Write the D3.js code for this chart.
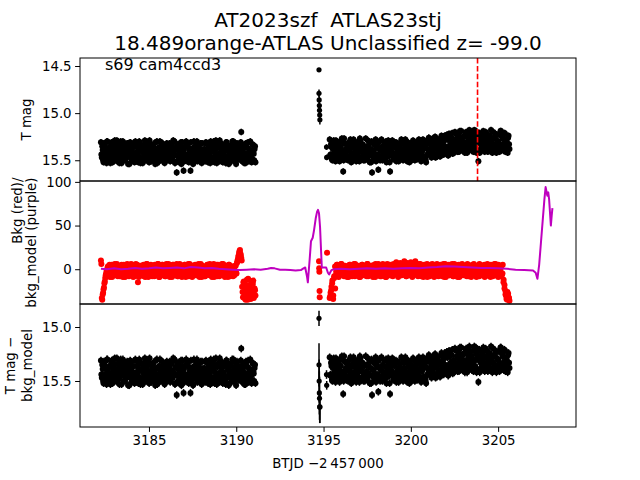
<!DOCTYPE html>
<html><head><meta charset="utf-8">
<script src="https://cdn.jsdelivr.net/npm/d3@7"></script>
<style>body{margin:0;background:#fff}svg text{font-family:"DejaVu Sans",sans-serif}</style>
</head><body><svg id="c" width="640" height="480"></svg>
<script>
// ---------------- DATA ----------------
const titleLines = ["AT2023szf  ATLAS23stj", "18.489orange-ATLAS Unclassified z= -99.0"];
const sectorLabel = "s69 cam4ccd3";
const xLabel = "BTJD \u22122\u2009457\u2009000";
const xTicks = [3185, 3190, 3195, 3200, 3205];
const yTicksMag = [14.5, 15.0, 15.5];
const yTicksBkg = [0, 50, 100];
const yTicksDiff = [15.0, 15.5];
const markerTime = 3203.82;

// orbit (segment) time spans, regular cadence inside each
const seg1Span = [3182.25, 3191.10];
const seg2Span = [3195.35, 3205.65];

// T mag, orbit 1 (even cadences)
const mag1 = [
15.31,15.47,15.39,15.52,15.35,15.44,15.50,15.30,15.41,15.46,15.36,15.53,15.33,15.43,15.49,15.38,15.29,15.45,15.40,15.51,
15.34,15.48,15.42,15.30,15.53,15.37,15.45,15.32,15.50,15.40,15.47,15.35,15.43,15.54,15.31,15.39,15.49,15.36,15.44,15.52,
15.30,15.42,15.51,15.37,15.46,15.33,15.53,15.40,15.48,15.35,15.44,15.29,15.50,15.38,15.45,15.32,15.52,15.41,15.47,15.36,
15.48,15.33,15.43,15.54,15.39,15.30,15.46,15.51,15.36,15.42,15.31,15.49,15.37,15.45,15.53,15.34,15.41,15.50,15.38,15.44,
15.32,15.50,15.40,15.46,15.29,15.43,15.53,15.37,15.63,15.34,15.45,15.52,15.39,15.31,15.47,15.42,15.61,15.51,15.44,15.30,
15.45,15.36,15.52,15.41,15.61,15.49,15.38,15.54,15.30,15.46,15.40,15.34,15.51,15.43,15.37,15.48,15.32,15.53,15.39,15.47,
15.38,15.51,15.31,15.44,15.49,15.35,15.42,15.53,15.33,15.47,15.40,15.30,15.52,15.37,15.45,15.50,15.34,15.43,15.29,15.48,
15.41,15.33,15.50,15.45,15.36,15.53,15.31,15.47,15.39,15.44,15.52,15.35,15.42,15.49,15.30,15.46,15.38,15.54,15.32,15.43,
15.49,15.37,15.44,15.20,15.51,15.40,15.34,15.47,15.53,15.36,15.43,15.31,15.48,15.39,15.45,15.52,15.33,15.41,15.50,15.35];
// T mag, orbit 1 (odd cadences)
const mag1b = [
15.44,15.35,15.50,15.32,15.47,15.39,15.53,15.30,15.42,15.49,15.37,15.45,15.31,15.52,15.40,15.34,15.48,15.43,15.29,15.46,
15.38,15.53,15.33,15.45,15.41,15.30,15.50,15.36,15.47,15.43,15.32,15.54,15.39,15.46,15.34,15.51,15.37,15.42,15.48,15.31,
15.47,15.36,15.44,15.52,15.30,15.40,15.49,15.34,15.53,15.38,15.45,15.31,15.42,15.50,15.35,15.46,15.29,15.43,15.51,15.39,
15.35,15.49,15.41,15.31,15.46,15.53,15.37,15.44,15.30,15.50,15.40,15.47,15.33,15.52,15.38,15.45,15.32,15.48,15.42,15.36,
15.51,15.40,15.34,15.47,15.43,15.30,15.52,15.38,15.45,15.33,15.49,15.41,15.36,15.54,15.31,15.44,15.39,15.50,15.35,15.46,
15.33,15.46,15.50,15.38,15.31,15.44,15.40,15.53,15.36,15.48,15.42,15.30,15.47,15.35,15.51,15.39,15.45,15.32,15.49,15.41,
15.43,15.32,15.48,15.40,15.52,15.36,15.45,15.30,15.50,15.39,15.34,15.47,15.42,15.29,15.53,15.37,15.44,15.51,15.33,15.46,
15.37,15.52,15.42,15.34,15.49,15.31,15.46,15.40,15.54,15.35,15.43,15.48,15.30,15.45,15.38,15.51,15.33,15.41,15.47,15.36,
15.46,15.39,15.31,15.50,15.42,15.35,15.53,15.44,15.32,15.48,15.37,15.51,15.40,15.30,15.45,15.49,15.34,15.43,15.38,15.52];
// T mag, orbit 2 (even cadences)
const mag2 = [
15.28,15.44,15.36,15.50,15.31,15.42,15.47,15.29,15.39,15.45,15.34,15.51,15.30,15.41,15.48,15.62,15.27,15.43,15.38,15.49,
15.32,15.46,15.40,15.28,15.52,15.35,15.44,15.30,15.48,15.38,15.45,15.33,15.42,15.51,15.29,15.37,15.47,15.34,15.43,15.50,
15.27,15.41,15.49,15.36,15.45,15.31,15.52,15.63,15.46,15.33,15.43,15.28,15.48,15.36,15.60,15.30,15.50,15.40,15.46,15.35,
15.47,15.31,15.42,15.52,15.37,15.29,15.45,15.62,15.34,15.41,15.30,15.48,15.36,15.44,15.51,15.32,15.40,15.48,15.37,15.43,
15.29,15.47,15.38,15.45,15.28,15.42,15.51,15.35,15.46,15.32,15.44,15.50,15.37,15.30,15.45,15.40,15.33,15.49,15.42,15.28,
15.46,15.35,15.50,15.39,15.31,15.47,15.36,15.52,15.29,15.44,
15.26,15.41,15.33,15.47,15.30,15.39,15.44,15.25,15.36,15.46,15.28,15.40,15.34,15.45,15.24,15.38,15.43,15.29,15.35,15.42,
15.23,15.37,15.44,15.27,15.33,15.40,15.21,15.36,15.42,
15.20,15.35,15.27,15.41,15.23,15.32,15.38,15.19,15.30,15.36,15.25,15.42,15.21,15.33,15.39,15.26,15.18,15.34,15.29,15.40,
15.22,15.37,15.31,15.19,15.42,15.27,15.51,15.21,15.39,15.30,15.36,15.24,15.33,15.41,15.20,15.28,15.38,15.25,15.34,15.40,
15.18,15.32,15.39,15.26,15.36,15.22,15.42,15.30,15.37,15.23,15.34,15.19,15.39,15.27,15.35,15.21,15.41,15.31,15.37,15.26,
15.33];
// T mag, orbit 2 (odd cadences)
const mag2b = [
15.45,15.33,15.49,15.38,15.29,15.43,15.51,15.35,15.46,15.31,15.40,15.48,15.36,15.27,15.44,15.50,15.32,15.41,15.47,15.34,
15.50,15.39,15.30,15.45,15.37,15.49,15.28,15.42,15.35,15.51,15.31,15.46,15.38,15.27,15.48,15.41,15.33,15.50,15.36,15.44,
15.47,15.35,15.29,15.43,15.52,15.38,15.30,15.45,15.40,15.49,15.34,15.51,15.37,15.44,15.31,15.47,15.39,15.28,15.50,15.42,
15.36,15.48,15.30,15.41,15.46,15.33,15.52,15.38,15.44,15.29,15.49,15.35,15.43,15.31,15.47,15.40,15.51,15.34,15.45,15.28,
15.42,15.50,15.33,15.39,15.48,15.30,15.44,15.37,15.52,15.41,15.35,15.47,15.29,15.43,15.50,15.36,15.45,15.31,15.48,15.39,
15.33,15.51,15.41,15.28,15.46,15.37,15.49,15.32,15.44,15.40,
15.38,15.30,15.45,15.35,15.27,15.43,15.32,15.47,15.36,15.29,15.42,15.33,15.46,15.26,15.39,15.31,15.44,15.24,15.37,15.41,
15.28,15.45,15.22,15.34,15.40,15.26,15.43,15.31,15.38,
15.33,15.22,15.39,15.28,15.41,15.19,15.35,15.26,15.40,15.31,15.24,15.37,15.20,15.42,15.29,15.34,15.23,15.38,15.27,15.32,
15.41,15.18,15.36,15.25,15.39,15.30,15.21,15.42,15.33,15.26,15.37,15.19,15.40,15.28,15.35,15.22,15.41,15.31,15.24,15.38,
15.29,15.42,15.20,15.34,15.27,15.39,15.23,15.36,15.30,15.41,15.19,15.37,15.25,15.33,15.40,15.22,15.35,15.28,15.42,15.24,
15.38];
const magErr = 0.035;

// background flux (red)
const bkg1 = [
10,-33,-29,-23,-16,-10,-5,
-8,3,-3,5,-6,0,-9,2,-4,6,-1,-7,4,-5,1,-8,-2,5,-3,-6,3,-9,0,4,-4,-7,2,-1,6,-5,-2,4,-8,1,-6,5,-15,-9,2,-1,
4,-6,0,-8,3,-4,6,-2,-9,1,-5,5,-7,2,-3,-8,4,0,-6,6,-1,-9,3,-4,5,-7,1,-2,-8,6,-5,2,-3,-9,4,-1,-6,5,0,-7,
-3,6,-8,1,-5,4,-1,-9,3,-6,5,-2,-7,2,0,-8,6,-4,-1,-9,4,-5,3,-3,-7,5,1,-6,-2,6,-9,0,-4,3,-8,2,-5,5,-1,-7,
4,-3,-9,1,6,-6,-2,3,-8,5,-4,0,-7,2,-5,6,-1,-9,4,-3,1,-6,5,-8,-2,3,-5,0,-7,4,-4,
7,11,16,21,18,13,
-20,-32,-14,-28,-35,-18,-25,-11,-30,-22,-34,-16,-27,-13,-31,-24];
const bkg1b = [
6,-35,-27,-21,-14,-7,-2,
1,-6,4,-9,-2,5,-4,0,-7,3,-5,6,-8,2,-1,-6,4,-3,-9,5,
-2,1,-7,6,-4,-8,3,0,-5,5,-9,2,-3,6,-6,1,-1,-8,4,-4,
2,-7,5,-2,-9,0,6,-5,3,-6,-1,4,-8,1,-3,5,-7,2,-4,6,
-9,-1,3,-6,5,-3,0,-8,4,-5,1,6,-7,-2,3,-9,5,-4,2,-6,
0,4,-8,-1,6,-5,3,-3,-7,2,5,-9,1,-4,6,-2,-6,3,-8,4,
-1,-5,5,-7,2,-3,6,-9,0,-4,4,-6,1,-8,3,-2,5,-5,-1,6,
-7,2,-4,4,-9,0,-3,5,-6,1,-8,3,-2,6,-5,-1,4,-7,2,-4,
-9,5,-3,0,-6,3,-8,1,-2,4,-5,
9,14,19,22,16,10,
-26,-15,-33,-21,-29,-12,-35,-19,-24,-31,-14,-28,-17,-33,-22,-30];
const bkg2 = [
-33,-27,-20,-13,-30,-8,
3,-7,5,-2,-9,1,-5,6,-4,0,-8,4,-3,-6,2,-9,5,-1,-7,3,-4,6,-8,0,-5,4,-2,-9,1,-6,5,-3,-7,2,-1,-8,6,-4,0,-6,
4,-2,-9,3,-5,6,-7,1,-3,5,-8,0,-4,6,-6,2,-9,4,-1,-5,5,-7,3,-2,-8,6,-4,1,-6,4,-9,2,-3,5,-7,0,-5,6,-2,-8,
7,-4,2,-7,8,-1,-6,5,-3,9,-5,3,-8,6,0,-6,4,-2,-9,5,1,-7,6,-4,2,-8,5,-1,-5,4,-9,3,-3,6,-6,0,-7,5,-2,-8,
3,-5,6,-9,1,-3,5,-7,2,-4,6,-8,0,-5,4,-2,-9,5,-6,1,-3,6,-7,3,-4,0,-8,5,-1,-6,4,-9,2,-3,6,-5,1,-7,3,-2,
-8,5,-4,0,-6,4,-9,2,-3,6,-7,1,-5,5,-2,-8,3,-4,6,-6,0,-9,4,-3,2,-7,5,
-12,-18,-25,-31,-35,-28,-33];
const bkg2b = [
-31,-24,-16,-34,-10,-22,
-3,5,-8,2,-5,6,-1,-7,4,-4,0,-9,3,-6,5,-2,-8,1,-4,6,
-7,2,-3,4,-9,0,5,-5,-1,3,-6,6,-8,1,-2,4,-7,-4,5,-9,
2,-3,6,-6,0,-8,4,-1,-5,3,-9,6,-2,1,-7,5,-4,-6,2,-3,
8,-5,3,-1,7,-7,1,-4,9,-3,-8,4,-6,6,-2,0,-9,3,-5,5,
-1,-7,2,-4,6,-8,0,-3,4,-6,1,-9,5,-2,3,-5,6,-7,-1,2,
-4,5,-8,0,-6,3,-2,6,-9,1,-5,4,-3,-7,5,-1,2,-8,6,-4,
0,-6,3,-9,5,-2,-5,1,4,-7,-3,6,-8,2,-1,-4,5,-6,0,3,
-9,4,-2,6,-7,1,-5,-3,5,-8,2,-1,4,-6,-9,3,0,-4,6,-7,
1,-3,5,-8,-2,4,-5,
-15,-22,-29,-34,-26,-32,-36];

// isolated cadences between orbits
const isoTime  = [3194.74, 3194.74, 3194.75, 3194.76, 3194.77, 3194.78, 3194.79, 3195.17, 3195.18];
const isoMag   = [14.54, 14.79, 14.86, 14.92, 14.97, 15.02, 15.07, 15.36, 15.47];
const isoMagErr= [0.02, 0.04, 0.04, 0.05, 0.05, 0.05, 0.05, 0.03, 0.03];
const isoDiff  = [14.92, 15.35, 15.50, 15.61, 15.66, 15.74, 15.74, 15.44, 15.54];
const isoDiffErr=[0.07, 0.20, 0.20, 0.20, 0.20, 0.15, 0.15, 0.04, 0.04];
const isoBkgTime = [3194.74, 3194.75, 3194.76, 3194.77, 3194.78, 3195.20];
const isoBkg     = [9, 1, -3, -25, -32, 19];

// smooth background model (purple)
const modelTime = [3182.25,3182.6,3183.0,3183.4,3183.8,3184.2,3184.6,3185.0,3185.4,3185.8,3186.2,3186.6,3187.0,3187.4,3187.8,
3188.2,3188.6,3189.0,3189.4,3189.8,3190.2,3190.6,3191.0,3191.4,3191.8,3192.0,3192.2,3192.5,3192.8,3193.1,3193.4,3193.7,
3193.85,3193.95,3194.05,3194.1,3194.2,3194.28,3194.38,3194.45,3194.55,3194.63,3194.68,3194.74,3194.8,3194.86,3194.9,
3195.0,3195.15,3195.25,3195.32,3195.45,3195.6,3196.0,3196.5,3197.0,3197.5,3198.0,3198.5,3199.0,3199.5,3200.0,3200.5,
3201.0,3201.5,3202.0,3202.5,3203.0,3203.5,3204.0,3204.5,3205.0,3205.5,3206.0,3206.5,3207.0,3207.15,3207.25,3207.35,
3207.45,3207.55,3207.65,3207.72,3207.78,3207.82,3207.87,3207.92,3207.97,3208.02,3208.07,3208.11];
const modelVal = [0.5,0,1,0,0.5,1.5,0.5,1,2,1,1.5,2,1,2.5,2,
1,1.5,0.5,0,-0.5,-1,-0.5,0,-0.5,0.5,1.5,1,-0.5,-0.5,-1,-1.5,-1,
1,2,-8,-15,10,32,36,44,58,66,68,64,48,20,2,
2,2,-4,-6,-1,0,0.5,0,0.5,1,0.5,1,0.5,1,1.5,1,
2,2.5,3.5,3,2.5,2,1.5,1.5,1,0.5,-0.5,-1,-1.5,-4,-11,5,
30,55,80,94,88,84,88,80,65,50,62,70];

// ---------------- LAYOUT ----------------
const L = 80, R = 576;
const P = [{top:58, bot:181}, {top:181, bot:304}, {top:304, bot:427}];
const svg = d3.select("#c");
const x = d3.scaleLinear().domain([3181.05, 3209.46]).range([L, R]);
const yMag = d3.scaleLinear().domain([14.415, 15.72]).range([P[0].top, P[0].bot]);
const yBkg = d3.scaleLinear().domain([101, -39.8]).range([P[1].top, P[1].bot]);
const yDiff = d3.scaleLinear().domain([14.787, 15.926]).range([P[2].top, P[2].bot]);

// regular cadence times; "half" shifts by half a step for the interleaved (odd) cadences
function cadence(span, n, half){
  const dt=(span[1]-span[0])/(n-0.5);
  return d3.range(n).map(i=>span[0]+(i+(half?0.5:0))*dt);
}
function pts(vals, span, half, e){ const t=cadence(span, vals.length, half); return vals.map((v,i)=>({t:t[i], v, e})); }

const magPts = [].concat(pts(mag1,seg1Span,false,magErr), pts(mag1b,seg1Span,true,magErr),
                         pts(mag2,seg2Span,false,magErr), pts(mag2b,seg2Span,true,magErr));
const magIso = isoTime.map((t,i)=>({t, v:isoMag[i], e:isoMagErr[i]}));
const diffIso = isoTime.map((t,i)=>({t, v:isoDiff[i], e:isoDiffErr[i]}));
const bkgPts = [].concat(pts(bkg1,seg1Span,false), pts(bkg1b,seg1Span,true),
                         pts(bkg2,seg2Span,false), pts(bkg2b,seg2Span,true),
                         isoBkgTime.map((t,i)=>({t, v:isoBkg[i]})));
const model = modelTime.map((t,i)=>({t, v:modelVal[i]}));

const defs = svg.append("defs");
P.forEach((p,i)=>defs.append("clipPath").attr("id","cp"+i).append("rect")
  .attr("x",L).attr("y",p.top).attr("width",R-L).attr("height",p.bot-p.top));

function errPoints(g, data, y, r){
  g.selectAll("line.e").data(data).join("line").attr("class","e")
    .attr("x1",d=>x(d.t)).attr("x2",d=>x(d.t))
    .attr("y1",d=>y(d.v-d.e)).attr("y2",d=>y(d.v+d.e))
    .attr("stroke","#000").attr("stroke-width",1.5);
  g.selectAll("circle.p").data(data).join("circle").attr("class","p")
    .attr("cx",d=>x(d.t)).attr("cy",d=>y(d.v)).attr("r",r).attr("fill","#000");
}

// Panel 1
const g1 = svg.append("g").attr("clip-path","url(#cp0)");
errPoints(g1.append("g"), magPts, yMag, 3);
errPoints(g1.append("g"), magIso, yMag, 2.6);
g1.append("line").attr("x1",x(markerTime)).attr("x2",x(markerTime))
  .attr("y1",P[0].top).attr("y2",P[0].bot)
  .attr("stroke","#ff0000").attr("stroke-width",1.6).attr("stroke-dasharray","5.5,2.4");

// Panel 2
const g2 = svg.append("g").attr("clip-path","url(#cp1)");
g2.selectAll("circle").data(bkgPts).join("circle")
  .attr("cx",d=>x(d.t)).attr("cy",d=>yBkg(d.v)).attr("r",3).attr("fill","#ff0000");
g2.append("path").datum(model)
  .attr("d", d3.line().x(d=>x(d.t)).y(d=>yBkg(d.v)))
  .attr("fill","none").attr("stroke","#bf00bf").attr("stroke-width",2).attr("stroke-linejoin","round");

// Panel 3
const g3 = svg.append("g").attr("clip-path","url(#cp2)");
errPoints(g3.append("g"), magPts, yDiff, 3);
errPoints(g3.append("g"), diffIso, yDiff, 2.6);

// frames
P.forEach(p=>svg.append("rect").attr("x",L).attr("y",p.top).attr("width",R-L).attr("height",p.bot-p.top)
  .attr("fill","none").attr("stroke","#000").attr("stroke-width",1));

function styleAxis(g){
  g.select(".domain").remove();
  g.selectAll("line").attr("stroke","#000").attr("stroke-width",1);
  g.selectAll("text").attr("font-size",13.33).attr("font-family","DejaVu Sans").attr("fill","#000");
}
svg.append("g").attr("transform",`translate(${L},0)`)
  .call(d3.axisLeft(yMag).tickValues(yTicksMag).tickFormat(d3.format(".1f")).tickSize(4.9).tickPadding(3.5)).call(styleAxis);
svg.append("g").attr("transform",`translate(${L},0)`)
  .call(d3.axisLeft(yBkg).tickValues(yTicksBkg).tickFormat(d3.format("d")).tickSize(4.9).tickPadding(3.5)).call(styleAxis);
svg.append("g").attr("transform",`translate(${L},0)`)
  .call(d3.axisLeft(yDiff).tickValues(yTicksDiff).tickFormat(d3.format(".1f")).tickSize(4.9).tickPadding(3.5)).call(styleAxis);
svg.append("g").attr("transform",`translate(0,${P[2].bot})`)
  .call(d3.axisBottom(x).tickValues(xTicks).tickFormat(d3.format("d")).tickSize(4.9).tickPadding(3.5)).call(styleAxis);

// texts
svg.append("text").attr("x",328).attr("y",26.5).attr("text-anchor","middle").attr("font-size",20)
  .style("white-space","pre").text(titleLines[0]);
svg.append("text").attr("x",328).attr("y",50).attr("text-anchor","middle").attr("font-size",20).text(titleLines[1]);
svg.append("text").attr("x",105).attr("y",70).attr("font-size",16).text(sectorLabel);
svg.append("text").attr("x",328).attr("y",468).attr("text-anchor","middle").attr("font-size",13.33).text(xLabel);

function ylab(cx, cy, s, anchor){
  svg.append("text").attr("transform",`translate(${cx},${cy}) rotate(-90)`).attr("text-anchor",anchor||"middle")
    .attr("dy","0.35em").attr("font-size",13.33).text(s);
}
ylab(26, (P[0].top+P[0].bot)/2, "T mag");
ylab(17, 177.5, "Bkg (red)/", "end");
ylab(31, 177.5, "bkg_model (purple)", "end");
ylab(10, (P[2].top+P[2].bot)/2, "T mag \u2212");
ylab(27, (P[2].top+P[2].bot)/2, "bkg_model");
</script></body></html>
